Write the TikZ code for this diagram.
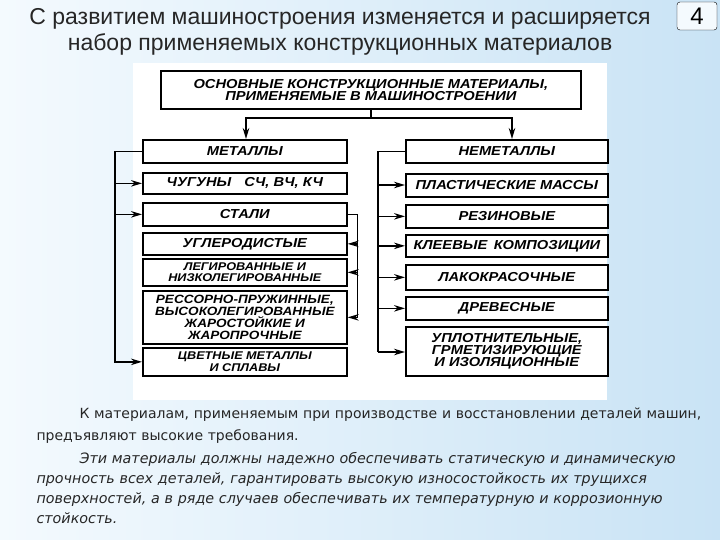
\documentclass[tikz,border=0pt]{standalone}
\usepackage{fontspec}
\setmainfont{Liberation Sans}
\newfontfamily\boxf[FakeStretch=1.13]{Liberation Sans}
\newfontfamily\bodyf{DejaVu Sans}
\usetikzlibrary{arrows.meta}
\definecolor{bgblue}{HTML}{C9E3F5}
\definecolor{bgwhite}{HTML}{F4FAFE}
\begin{document}
\begin{tikzpicture}[x=1pt,y=-1pt,
 bx/.style={draw,line width=1.7pt,fill=white,inner sep=0pt,font=\boxf\bfseries\itshape\fontsize{13}{12.2}\selectfont,align=center,anchor=north west},
 sm/.style={font=\boxf\bfseries\itshape\fontsize{11.2}{11.4}\selectfont},
 ln/.style={line width=1.5pt},
 ar/.style={line width=1.5pt,-{Stealth[length=11pt,width=6.5pt]}}]
\useasboundingbox (0,0) rectangle (720,540);
\shade[left color=bgwhite,right color=bgblue] (0,0) rectangle (720,540);
\fill[white] (133,63) rectangle (607,400);
% title
\node[font=\fontsize{23}{26}\selectfont,align=center,text=black!85] (t) at (340,32) {С развитием машиностроения изменяется и расширяется\\набор применяемых конструкционных материалов};
\node[draw,fill=bgwhite,rounded corners=3pt,minimum width=40pt,minimum height=28pt,font=\fontsize{24}{24}\selectfont] (pn) at (697,16) {4};
% top
\node[bx,minimum width=420pt,minimum height=38pt] (top) at (160,70) {ОСНОВНЫЕ КОНСТРУКЦИОННЫЕ МАТЕРИАЛЫ,\\ПРИМЕНЯЕМЫЕ В МАШИНОСТРОЕНИИ};
% left
\node[bx,minimum width=204pt,minimum height=23pt] (met) at (142,139) {МЕТАЛЛЫ};
\node[bx,minimum width=204pt,minimum height=21pt] (chu) at (142,172) {ЧУГУНЫ\quad СЧ, ВЧ, КЧ};
\node[bx,minimum width=204pt,minimum height=23pt] (sta) at (142,202) {СТАЛИ};
\node[bx,minimum width=204pt,minimum height=22pt] (ugl) at (142,232) {УГЛЕРОДИСТЫЕ};
\node[bx,sm,minimum width=204pt,minimum height=27pt] (leg) at (142,258) {ЛЕГИРОВАННЫЕ И\\НИЗКОЛЕГИРОВАННЫЕ};
\node[bx,minimum width=204pt,minimum height=53pt,font=\boxf\bfseries\itshape\fontsize{12}{12.2}\selectfont] (res) at (142,290) {РЕССОРНО-ПРУЖИННЫЕ,\\ВЫСОКОЛЕГИРОВАННЫЕ\\ЖАРОСТОЙКИЕ И\\ЖАРОПРОЧНЫЕ};
\node[bx,sm,minimum width=204pt,minimum height=28pt] (cvm) at (142,347) {ЦВЕТНЫЕ МЕТАЛЛЫ\\И СПЛАВЫ};
% right
\node[bx,minimum width=202pt,minimum height=23pt] (nem) at (405,139) {НЕМЕТАЛЛЫ};
\node[bx,minimum width=202pt,minimum height=23pt] (pla) at (405,173) {ПЛАСТИЧЕСКИЕ МАССЫ};
\node[bx,minimum width=202pt,minimum height=23pt] (rez) at (405,204) {РЕЗИНОВЫЕ};
\node[bx,minimum width=202pt,minimum height=22pt] (kle) at (405,234) {КЛЕЕВЫЕ\enspace КОМПОЗИЦИИ};
\node[bx,minimum width=202pt,minimum height=25pt] (lak) at (405,264) {ЛАКОКРАСОЧНЫЕ};
\node[bx,minimum width=202pt,minimum height=23pt] (dre) at (405,296) {ДРЕВЕСНЫЕ};
\node[bx,minimum width=202pt,minimum height=49pt] (upl) at (405,326) {УПЛОТНИТЕЛЬНЫЕ,\\ГРМЕТИЗИРУЮЩИЕ\\И ИЗОЛЯЦИОННЫЕ};
% connectors
\coordinate (j) at (top.south |- 0,118);
\draw[ln] (top.south) -- (j);
\draw[ar] (j) -| (met.north -| 246,0);
\draw[ar] (j) -| (nem.north -| 512,0);
\draw[ln] (met.west) -- ++(-27,0) coordinate (lb) -- (lb |- 0,363);
\foreach \n in {chu,sta,cvm} \draw[ar] (lb |- \n.west) -- (\n.west);
\draw[ln] (sta.east) -- ++(10,0) coordinate (sb) -- (sb |- res.east);
\foreach \n in {ugl,leg,res} \draw[ar] (sb |- \n.east) -- (\n.east);
\draw[ln] (nem.west) -- ++(-27,0) coordinate (rb) -- (rb |- 0,352);
\draw[ar] (rb |- 0,185) -- (pla.west |- 0,185);
\draw[ar] (rb |- rez.west) -- (rez.west);
\draw[ar] (rb |- kle.west) -- (kle.west);
\draw[ar] (rb |- lak.west) -- (lak.west);
\draw[ar] (rb |- dre.west) -- (dre.west);
\draw[ar] (rb |- 0,352) -- (upl.west |- 0,352);
% text
\node[anchor=north west,font=\bodyf\fontsize{14}{22}\selectfont,text width=690pt,text=black!85] (p1) at (33,404) {\hspace*{43pt}К материалам, применяемым при производстве и восстановлении деталей машин,\\ предъявляют высокие требования.};
\node[anchor=north west,font=\bodyf\itshape\fontsize{14.3}{20}\selectfont,text width=690pt,text=black!85] (p2) at (33,449) {\hspace*{43pt}Эти материалы должны надежно обеспечивать статическую и динамическую\\ прочность всех деталей, гарантировать высокую износостойкость их трущихся\\ поверхностей, а в ряде случаев обеспечивать их температурную и коррозионную\\ стойкость.};
\end{tikzpicture}
\end{document}
